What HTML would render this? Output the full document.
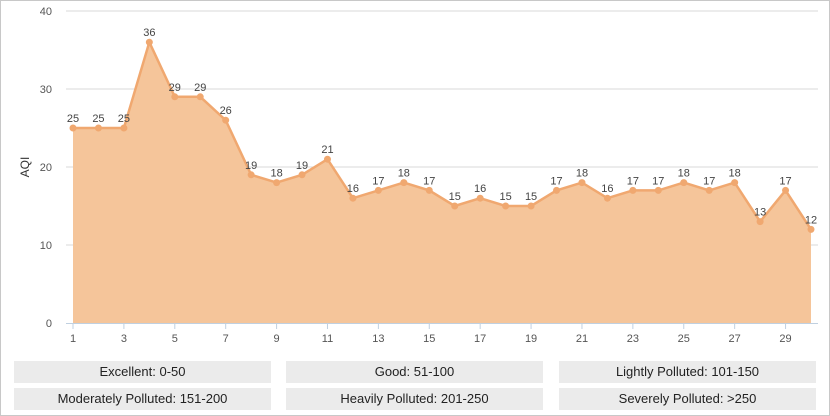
<!DOCTYPE html>
<html><head><meta charset="utf-8"><style>
body{margin:0;width:830px;height:416px;overflow:hidden;background:#fff;font-family:"Liberation Sans",sans-serif}
#wrap{position:absolute;left:0;top:0;width:828px;height:414px;border:1px solid #c8c8c8}
.lg{position:absolute;height:22px;line-height:22px;background:#ebebeb;text-align:center;font-size:13px;color:#222;width:257px}
</style></head><body>
<div id="wrap">
<svg id="chart" width="830" height="350" style="position:absolute;left:-1px;top:-1px" font-family="Liberation Sans, sans-serif"></svg>
<div class="lg" style="left:13px;top:360px">Excellent: 0-50</div>
<div class="lg" style="left:285px;top:360px">Good: 51-100</div>
<div class="lg" style="left:558px;top:360px">Lightly Polluted: 101-150</div>
<div class="lg" style="left:13px;top:387px">Moderately Polluted: 151-200</div>
<div class="lg" style="left:285px;top:387px">Heavily Polluted: 201-250</div>
<div class="lg" style="left:558px;top:387px">Severely Polluted: &gt;250</div>
</div>
<script>
const days=[1,2,3,4,5,6,7,8,9,10,11,12,13,14,15,16,17,18,19,20,21,22,23,24,25,26,27,28,29,30];
const aqi=[25,25,25,36,29,29,26,19,18,19,21,16,17,18,17,15,16,15,15,17,18,16,17,17,18,17,18,13,17,12];
const yTicks=[0,10,20,30,40];
const xTicks=[1,3,5,7,9,11,13,15,17,19,21,23,25,27,29];
const svg=document.getElementById('chart');const NS='http://www.w3.org/2000/svg';
const x=d=>73+(d-1)*(811-73)/29, y=v=>323-v*7.8;
function mk(t,a){const e=document.createElementNS(NS,t);for(const k in a)e.setAttribute(k,a[k]);svg.appendChild(e);return e;}
yTicks.forEach(t=>{
 if(t>0){const g=mk('line',{x1:66,x2:818,y1:y(t),y2:y(t),stroke:'#d8d8d8'});
 
 }
 const l=mk('text',{x:52,y:y(t)+4,'text-anchor':'end','font-size':11,fill:'#555'});l.textContent=t;
 
 
});
const yt=mk('text',{x:0,y:0,transform:'translate(29,167) rotate(-90)','text-anchor':'middle','font-size':12,fill:'#333'});yt.textContent='AQI';


let d='M'+x(days[0])+','+y(0);days.forEach((dd,i)=>d+=' L'+x(dd)+','+y(aqi[i]));d+=' L'+x(days[days.length-1])+','+y(0)+' Z';
const area=mk('path',{d:d,fill:'#f5c59a'});


const line=mk('polyline',{points:days.map((dd,i)=>x(dd)+','+y(aqi[i])).join(' '),fill:'none',stroke:'#f0a870','stroke-width':2.5});


const ax=mk('line',{x1:66,x2:818,y1:323.5,y2:323.5,stroke:'#c0d0e0'});


xTicks.forEach(t=>{
 const tk=mk('line',{x1:x(t),x2:x(t),y1:323,y2:329,stroke:'#c0d0e0'});
 
 
 const l=mk('text',{x:x(t),y:342,'text-anchor':'middle','font-size':11,fill:'#555'});l.textContent=t;
 
 
});
days.forEach((dd,i)=>{
 const c=mk('circle',{cx:x(dd),cy:y(aqi[i]),r:3.5,fill:'#f0a870'});
 
 
 const l=mk('text',{x:x(dd),y:y(aqi[i])-6,'text-anchor':'middle','font-size':11,fill:'#444'});l.textContent=aqi[i];
 
 
});
</script>
</body></html>
